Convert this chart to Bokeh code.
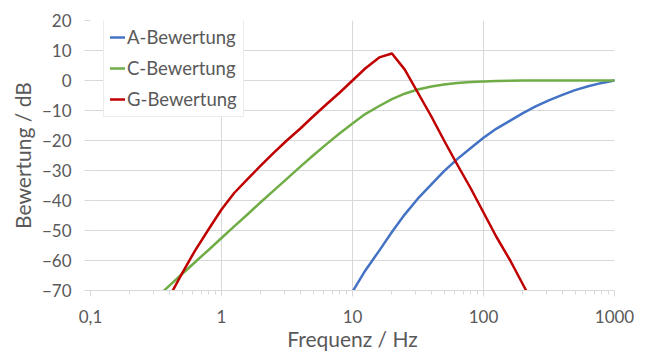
from bokeh.plotting import figure
from bokeh.models import FixedTicker, CustomJSTickFormatter, Legend, LegendItem
from bokeh.embed import file_html
from bokeh.resources import INLINE

# ---- data ----
a_freq = [10, 12.5, 16, 20, 25, 31.5, 40, 50, 63, 80, 100, 125, 160, 200, 250,
          315, 400, 500, 630, 800, 1000]
a_db = [-70.4, -63.4, -56.7, -50.5, -44.7, -39.4, -34.6, -30.2, -26.2, -22.5, -19.1,
        -16.1, -13.4, -10.9, -8.6, -6.6, -4.8, -3.2, -1.9, -0.8, 0.0]

c_freq = [0.315, 0.4, 0.5, 0.63, 0.8, 1, 1.25, 1.6, 2, 2.5, 3.15, 4, 5, 6.3, 8, 10,
          12.5, 16, 20, 25, 31.5, 40, 50, 63, 80, 100, 125, 160, 200, 250, 315, 400,
          500, 630, 800, 1000]
c_db = [-72.6, -68.4, -64.5, -60.5, -56.4, -52.5, -48.6, -44.4, -40.5, -36.7, -32.8,
        -28.7, -25.0, -21.3, -17.6, -14.3, -11.2, -8.5, -6.2, -4.4, -3.0, -2.0, -1.3,
        -0.8, -0.5, -0.3, -0.2, -0.1, 0.0, 0.0, 0.0, 0.0, 0.0, 0.0, 0.0, 0.0]

g_freq = [0.315, 0.4, 0.5, 0.63, 0.8, 1, 1.25, 1.6, 2, 2.5, 3.15, 4, 5, 6.3, 8, 10,
          12.5, 16, 20, 25, 31.5, 40, 50, 63, 80, 100, 125, 160, 200, 250]
g_db = [-80.0, -72.1, -64.3, -56.6, -49.5, -43.0, -37.5, -32.6, -28.3, -24.1, -20.0,
        -16.0, -12.0, -8.0, -4.0, 0.0, 4.0, 7.7, 9.0, 3.7, -4.0, -12.0, -20.0, -28.0,
        -36.0, -44.0, -52.0, -60.0, -68.0, -76.0]

series_names = ["A-Bewertung", "C-Bewertung", "G-Bewertung"]
series_colors = ["#4472C4", "#70AD47", "#C00000"]

x_ticks = [0.1, 1, 10, 100, 1000]
y_ticks = [-70, -60, -50, -40, -30, -20, -10, 0, 10, 20]

FONT = "Lato"
TXT = "#595959"
GRID = "#d9d9d9"

p = figure(x_axis_type="log", x_range=(0.1, 1000), y_range=(-70, 20),
           frame_width=524, frame_height=270,
           min_border_left=90, min_border_top=20, min_border_right=20, min_border_bottom=55,
           output_backend="svg", toolbar_location=None)
p.outline_line_color = None
p.background_fill_color = "white"
p.border_fill_color = "white"

minor = []
for d in [0.1, 1, 10, 100]:
    for m in range(2, 10):
        minor.append(d * m)

p.xaxis.ticker = FixedTicker(ticks=x_ticks, minor_ticks=minor)
p.xaxis.formatter = CustomJSTickFormatter(code="return tick < 1 ? String(tick).replace('.', ',') : tick.toFixed(0);")
p.yaxis.ticker = FixedTicker(ticks=y_ticks)

for ax in (p.xaxis[0], p.yaxis[0]):
    ax.major_label_text_font = FONT
    ax.major_label_text_font_size = "17px"
    ax.major_label_text_color = TXT
    ax.axis_label_text_font = FONT
    ax.axis_label_text_font_size = "21px"
    ax.axis_label_text_font_style = "normal"
    ax.axis_label_text_color = TXT
    ax.major_tick_line_color = GRID
    ax.minor_tick_line_color = GRID
    ax.axis_line_color = GRID
    ax.major_tick_in = 0
    ax.major_tick_out = 6

p.xaxis.axis_label = "Frequenz / Hz"
p.xaxis.minor_tick_in = 0
p.xaxis.minor_tick_out = 4
p.xaxis.major_label_standoff = 13
p.xaxis.axis_label_standoff = 0

p.yaxis.axis_label = "Bewertung / dB"
p.yaxis.axis_line_color = None
p.yaxis.minor_tick_line_color = None
p.yaxis.major_label_standoff = 13
p.yaxis.axis_label_standoff = 4

p.xgrid.grid_line_color = GRID
p.ygrid.grid_line_color = GRID
p.xgrid.grid_line_width = 1
p.ygrid.grid_line_width = 1

renderers = []
for fx, fy, c in [(a_freq, a_db, series_colors[0]), (c_freq, c_db, series_colors[1]),
                  (g_freq, g_db, series_colors[2])]:
    r = p.line(fx, fy, line_color=c, line_width=2.5, line_join="round", line_cap="round")
    renderers.append(r)

legend = Legend(items=[LegendItem(label=n, renderers=[r]) for n, r in zip(series_names, renderers)],
                location=(13, 173))
legend.label_text_font = FONT
legend.label_text_font_size = "18.5px"
legend.label_text_color = TXT
legend.glyph_width = 15
legend.glyph_height = 20
legend.label_height = 20
legend.label_standoff = 2
legend.spacing = 9
legend.padding = 6
legend.margin = 0
legend.border_line_color = GRID
legend.border_line_width = 1
legend.background_fill_color = "white"
legend.background_fill_alpha = 1
p.add_layout(legend, "center")

open("out.html", "w").write(file_html(p, INLINE))
